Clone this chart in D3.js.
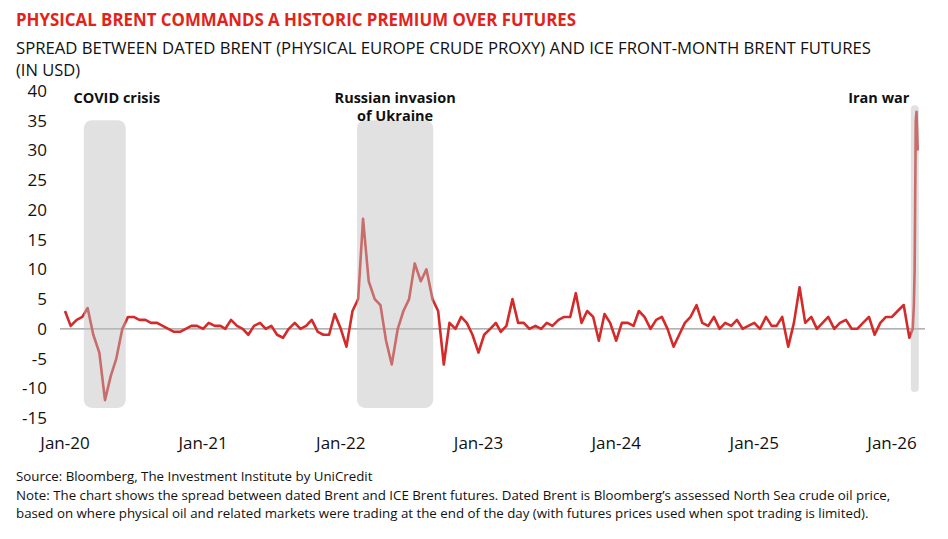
<!DOCTYPE html>
<html lang="en">
<head>
<meta charset="utf-8">
<style>
  body { margin: 0; background: #fff; }
  text { font-family: "Open Sans", "DejaVu Sans", sans-serif; }
</style>
</head>
<body>
<div id="chart"></div>
<script src="https://cdnjs.cloudflare.com/ajax/libs/d3/7.8.5/d3.min.js"></script>
<script>
  // semi-monthly readings (1st and 16th of each month)
  const v2020 = [3,0.5, 1.5,2, 3.5,-1, -4,-12, -8,-5, 0,2, 2,1.5, 1.5,1, 1,0.5, 0,-0.5, -0.5,0, 0.5,0.5]
  const v2021 = [0,1, 0.5,0.5, 0,1.5, 0.5,0, -1,0.5, 1,0, 0.5,-1, -1.5,0, 1,0, 0.5,1.5, -0.5,-1, -1,2.5]
  const v2022 = [0,-3, 3,5, 18.5,8, 5,4, -2,-6, 0,3, 5,11, 8,10, 5,3, -6,1, 0,2, 1,-1]
  const v2023 = [-4,-1, 0,1, -0.5,0.5, 5,1, 1,0, 0.5,0, 1,0.5, 1.5,2, 2,6, 1,3, 2,-2, 2.5,1]
  const v2024 = [-2,1, 1,0.5, 3,2, 0,1.5, 2,0, -3,-1, 1,2, 4,1, 0.5,2, 0,1, 0.5,1.5, 0,0.5]
  const v2025 = [1,0, 2,0.5, 0.5,2, -3,1, 7,1, 2,0, 1,2, 0,1, 1.5,0, 0,1, 2,-1, 1,2]
  const v2026 = [2,3, 4,-1.5]
  const lateDates = ['2026-02-25','2026-02-28','2026-03-02','2026-03-05','2026-03-07','2026-03-10']
  const lateValues = [0, 4, 10, 35, 36.5, 30]

  const episodes = [
    { label: ['COVID crisis'], start: '2020-02-20', end: '2020-06-10', top: 35.1, bottom: -13.3 },
    { label: ['Russian invasion', 'of Ukraine'], start: '2022-02-13', end: '2022-09-03', top: 35.1, bottom: -13.3 },
    { label: ['Iran war'], start: '2026-02-20', end: '2026-03-13', top: 37.6, bottom: -10.6 }
  ]
  const yTicks = [40, 35, 30, 25, 20, 15, 10, 5, 0, -5, -10, -15]
  const xTicks = ['2020-01-01','2021-01-01','2022-01-01','2023-01-01','2024-01-01','2025-01-01','2026-01-01']

  const parse = d3.timeParse('%Y-%m-%d')
  const data = []
  ;[v2020, v2021, v2022, v2023, v2024, v2025, v2026].forEach((vals, yi) => {
    vals.forEach((v, i) => {
      data.push({ date: new Date(2020 + yi, Math.floor(i / 2), i % 2 ? 16 : 1), value: v })
    })
  })
  lateDates.forEach((d, i) => data.push({ date: parse(d), value: lateValues[i] }))

  const width = 948, height = 539
  const svg = d3.select('#chart').append('svg').attr('width', width).attr('height', height)

  const x = d3.scaleTime().domain([parse('2020-01-01'), parse('2026-01-01')]).range([65, 892])
  const y = d3.scaleLinear().domain([-15, 40]).range([418, 91])

  svg.append('text').attr('x', 16).attr('y', 26).text('PHYSICAL BRENT COMMANDS A HISTORIC PREMIUM OVER FUTURES')
    .attr('fill', '#e2231a').style('font-weight', 'bold').style('font-size', '17px')
    .attr('textLength', 560).attr('lengthAdjust', 'spacingAndGlyphs')
  svg.append('text').attr('x', 16).attr('y', 54).text('SPREAD BETWEEN DATED BRENT (PHYSICAL EUROPE CRUDE PROXY) AND ICE FRONT-MONTH BRENT FUTURES')
    .style('font-size', '16.5px').attr('fill', '#111')
    .attr('textLength', 855).attr('lengthAdjust', 'spacingAndGlyphs')
  svg.append('text').attr('x', 16).attr('y', 76).text('(IN USD)').style('font-size', '16.5px').attr('fill', '#111')

  svg.selectAll('.ytick').data(yTicks).enter().append('text')
    .attr('x', 47).attr('y', d => y(d) + 6).attr('text-anchor', 'end')
    .style('font-size', '17px').attr('fill', '#111').text(d => d)

  svg.selectAll('.xtick').data(xTicks).enter().append('text')
    .attr('x', d => x(parse(d))).attr('y', 449).attr('text-anchor', 'middle')
    .style('font-size', '17px').attr('fill', '#111').text(d => d3.timeFormat('%b-%y')(parse(d)))

  svg.append('line').attr('x1', 60).attr('x2', 925).attr('y1', y(0)).attr('y2', y(0))
    .attr('stroke', '#999').attr('stroke-width', 1.2)

  const line = d3.line().x(d => x(d.date)).y(d => y(d.value))
  svg.append('path').datum(data).attr('d', line).attr('fill', 'none')
    .attr('stroke', '#d42a2a').attr('stroke-width', 2.6).attr('stroke-linejoin', 'round')

  svg.selectAll('.band').data(episodes).enter().append('rect')
    .attr('x', d => x(parse(d.start))).attr('width', d => x(parse(d.end)) - x(parse(d.start)))
    .attr('y', d => y(d.top)).attr('height', d => y(d.bottom) - y(d.top))
    .attr('rx', d => Math.min(8, (x(parse(d.end)) - x(parse(d.start))) / 2))
    .attr('fill', '#bdbdbd').attr('opacity', 0.45)

  episodes.forEach(e => {
    const cx = (x(parse(e.start)) + x(parse(e.end))) / 2
    const shift = e.label[0] === 'Iran war' ? -36 : (e.label[0] === 'COVID crisis' ? 12 : 0)
    e.label.forEach((l, i) => {
      svg.append('text').attr('x', cx + shift).attr('y', 103 + i * 18).attr('text-anchor', 'middle')
        .style('font-size', '14.5px').style('font-weight', 'bold').attr('fill', '#111').text(l)
    })
  })

  const notes = [
    'Source: Bloomberg, The Investment Institute by UniCredit',
    'Note: The chart shows the spread between dated Brent and ICE Brent futures. Dated Brent is Bloomberg\u2019s assessed North Sea crude oil price,',
    'based on where physical oil and related markets were trading at the end of the day (with futures prices used when spot trading is limited).'
  ]
  svg.selectAll('.note').data(notes).enter().append('text')
    .attr('x', 16).attr('y', (d, i) => 481 + i * 18.5).style('font-size', '13.3px').attr('fill', '#111').text(d => d)
</script>
</body>
</html>
